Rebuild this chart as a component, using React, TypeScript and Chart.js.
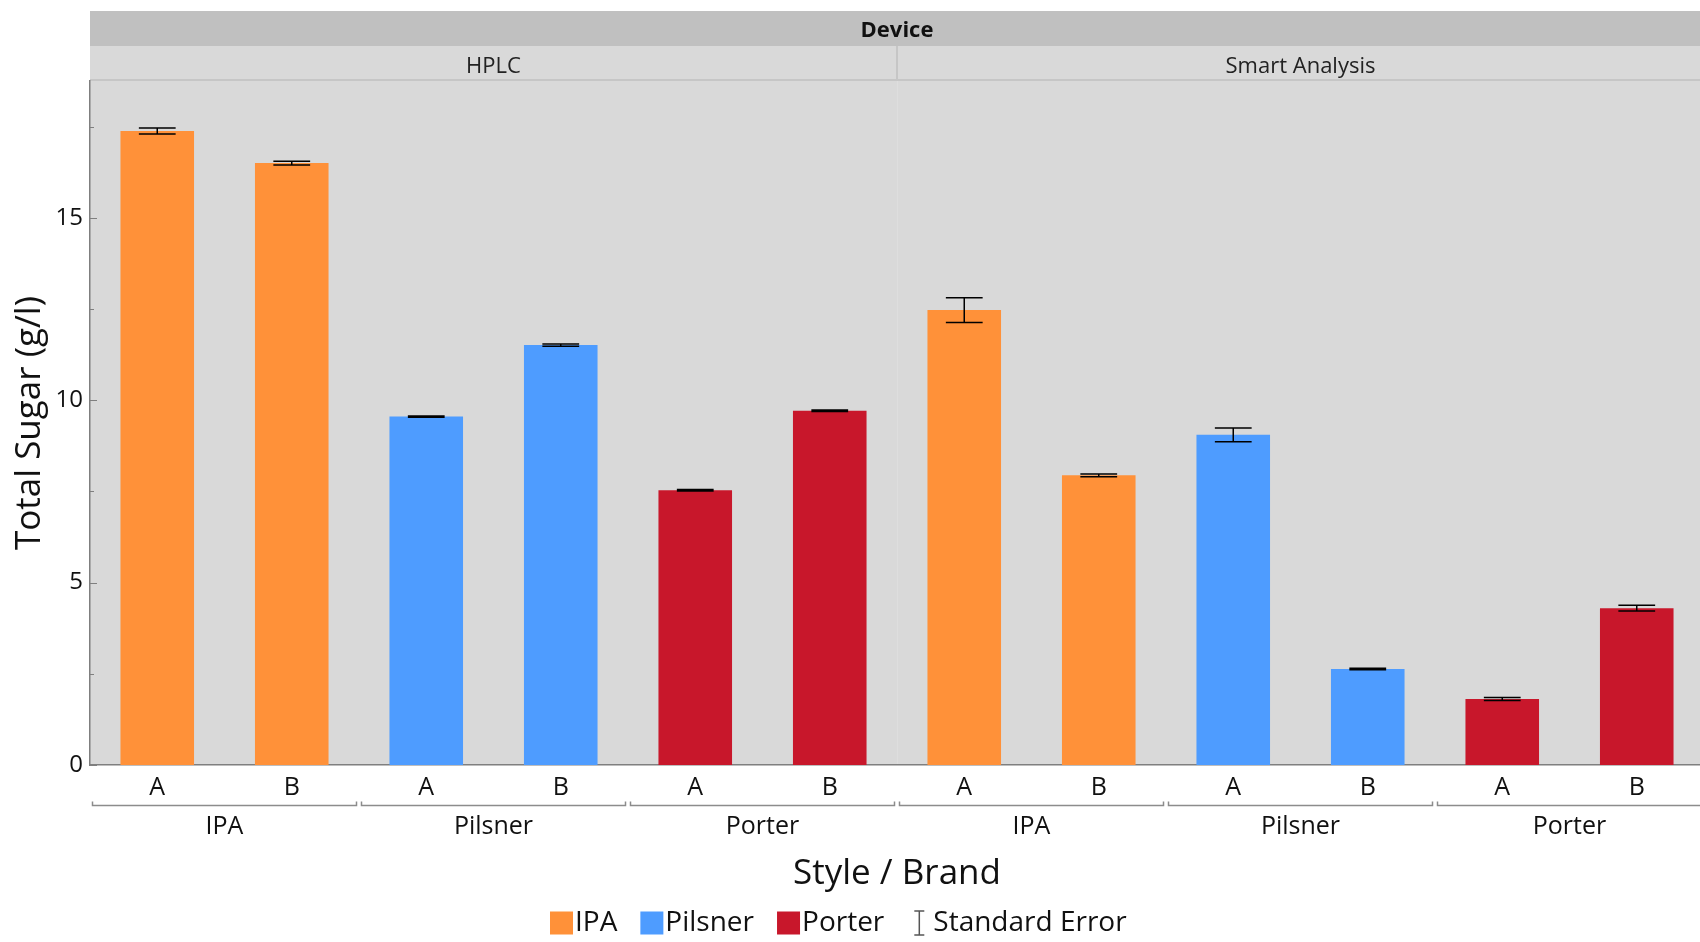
import React, { useEffect, useRef } from 'react';
import { Chart, registerables } from 'chart.js';

Chart.register(...registerables);

// ---- Data ----
const brands = ['A', 'B', 'A', 'B', 'A', 'B', 'A', 'B', 'A', 'B', 'A', 'B'];
const barStyles = ['IPA', 'IPA', 'Pilsner', 'Pilsner', 'Porter', 'Porter', 'IPA', 'IPA', 'Pilsner', 'Pilsner', 'Porter', 'Porter'];
const devices = ['HPLC', 'Smart Analysis'];
const styleGroups = ['IPA', 'Pilsner', 'Porter', 'IPA', 'Pilsner', 'Porter'];
const totalSugar = [17.38, 16.5, 9.55, 11.51, 7.53, 9.71, 12.47, 7.94, 9.05, 2.63, 1.81, 4.3];
const stdError = [0.08, 0.05, 0.02, 0.03, 0.02, 0.02, 0.34, 0.04, 0.19, 0.02, 0.04, 0.08];
const yTickValues = [0, 2.5, 5, 7.5, 10, 12.5, 15, 17.5];
const legendStyles = ['IPA', 'Pilsner', 'Porter'];
const styleColors: Record<string, string> = {
  IPA: '#FF9139',
  Pilsner: '#4E9CFF',
  Porter: '#C8172B',
};

const FONT = "'Open Sans', 'Noto Sans', sans-serif";
const TEXT = '#111111';

const facetPlugin = {
  id: 'facetDecor',
  beforeDraw(chart: any) {
    const { ctx, chartArea: ca, scales } = chart;
    const x = scales.x;
    const split = (x.getPixelForValue(5) + x.getPixelForValue(6)) / 2;
    ctx.save();
    // plot background
    ctx.fillStyle = '#D9D9D9';
    ctx.fillRect(ca.left, ca.top, ca.right - ca.left, ca.bottom - ca.top);
    // faint panel divider inside plot
    ctx.strokeStyle = '#DEDEDE';
    ctx.lineWidth = 1;
    ctx.beginPath();
    ctx.moveTo(split + 0.5, ca.top);
    ctx.lineTo(split + 0.5, ca.bottom);
    ctx.stroke();

    // strips
    const stripTop = 11;
    const stripMid = 46;
    ctx.fillStyle = '#C0C0C0';
    ctx.fillRect(ca.left, stripTop, ca.right - ca.left, stripMid - stripTop);
    ctx.fillStyle = '#D9D9D9';
    ctx.fillRect(ca.left, stripMid, ca.right - ca.left, ca.top - stripMid);
    ctx.strokeStyle = '#C6C6C6';
    ctx.lineWidth = 2;
    ctx.beginPath();
    ctx.moveTo(ca.left, ca.top - 1);
    ctx.lineTo(ca.right, ca.top - 1);
    ctx.moveTo(split, stripMid);
    ctx.lineTo(split, ca.top);
    ctx.stroke();

    ctx.fillStyle = TEXT;
    ctx.textAlign = 'center';
    ctx.textBaseline = 'middle';
    ctx.font = `bold 22px ${FONT}`;
    ctx.fillText('Device', (ca.left + ca.right) / 2, (stripTop + stripMid) / 2 + 2.5);
    ctx.font = `22px ${FONT}`;
    ctx.fillStyle = '#222';
    ctx.fillText(devices[0], (ca.left + split) / 2, (stripMid + ca.top) / 2 + 3);
    ctx.fillText(devices[1], (split + ca.right) / 2, (stripMid + ca.top) / 2 + 3);
    ctx.restore();
  },
  afterDatasetsDraw(chart: any) {
    const { ctx, chartArea: ca, scales } = chart;
    const x = scales.x;
    const y = scales.y;
    ctx.save();
    // inside tick marks on y axis
    ctx.strokeStyle = '#7F7F7F';
    ctx.lineWidth = 1;
    yTickValues.forEach((v) => {
      const py = Math.round(y.getPixelForValue(v)) + 0.5;
      const len = v % 5 === 0 ? 7 : 4;
      ctx.beginPath();
      ctx.moveTo(ca.left, py);
      ctx.lineTo(ca.left + len, py);
      ctx.stroke();
    });

    // error bars
    const meta = chart.getDatasetMeta(0);
    ctx.strokeStyle = '#000';
    ctx.lineWidth = 1.5;
    meta.data.forEach((bar: any, i: number) => {
      const cx = bar.x;
      const hi = y.getPixelForValue(totalSugar[i] + stdError[i]);
      const lo = y.getPixelForValue(totalSugar[i] - stdError[i]);
      const half = bar.width * 0.25;
      ctx.beginPath();
      ctx.moveTo(cx - half, hi);
      ctx.lineTo(cx + half, hi);
      ctx.moveTo(cx, hi);
      ctx.lineTo(cx, lo);
      ctx.moveTo(cx - half, lo);
      ctx.lineTo(cx + half, lo);
      ctx.stroke();
    });

    // group brackets and labels
    const step = x.getPixelForValue(1) - x.getPixelForValue(0);
    const by = 805.5;
    ctx.strokeStyle = '#8C8C8C';
    ctx.lineWidth = 1.5;
    ctx.fillStyle = TEXT;
    ctx.font = `25px ${FONT}`;
    ctx.textAlign = 'center';
    ctx.textBaseline = 'middle';
    styleGroups.forEach((g, gi) => {
      const l = x.getPixelForValue(gi * 2) - step / 2 + 2.5;
      const r = x.getPixelForValue(gi * 2 + 1) + step / 2 - 2.5;
      ctx.beginPath();
      ctx.moveTo(l, by - 4);
      ctx.lineTo(l, by);
      ctx.lineTo(r, by);
      ctx.lineTo(r, by - 4);
      ctx.stroke();
      ctx.fillText(g, (l + r) / 2, 827);
    });

    // legend
    const ly = 923;
    const sq = 23;
    let lx = 550;
    ctx.font = `28px ${FONT}`;
    ctx.textAlign = 'left';
    legendStyles.forEach((s) => {
      ctx.fillStyle = styleColors[s];
      ctx.fillRect(lx, ly - sq / 2, sq, sq);
      lx += sq + 2;
      ctx.fillStyle = TEXT;
      ctx.fillText(s, lx, ly);
      lx += ctx.measureText(s).width + 23;
    });
    // standard error icon
    const ix = lx + 12;
    ctx.strokeStyle = '#555';
    ctx.lineWidth = 1.5;
    ctx.beginPath();
    ctx.moveTo(ix - 5, ly - 12);
    ctx.lineTo(ix + 5, ly - 12);
    ctx.moveTo(ix, ly - 12);
    ctx.lineTo(ix, ly + 12);
    ctx.moveTo(ix - 5, ly + 12);
    ctx.lineTo(ix + 5, ly + 12);
    ctx.stroke();
    ctx.fillStyle = TEXT;
    ctx.fillText('Standard Error', ix + 14, ly);
    ctx.restore();
  },
};

export default function App() {
  const canvasRef = useRef<HTMLCanvasElement | null>(null);

  useEffect(() => {
    const canvas = canvasRef.current;
    if (!canvas) return;
    const chart = new Chart(canvas, {
      type: 'bar',
      data: {
        labels: brands,
        datasets: [
          {
            label: 'Total Sugar (g/l)',
            data: totalSugar,
            backgroundColor: barStyles.map((s) => styleColors[s]),
            borderWidth: 0,
            barPercentage: 0.547,
            categoryPercentage: 1,
          },
        ],
      },
      options: {
        responsive: false,
        animation: false,
        devicePixelRatio: 1,
        layout: { padding: { top: 81, left: 0, right: 0, bottom: 47 } },
        plugins: {
          legend: { display: false },
          tooltip: { enabled: false },
          title: { display: false },
        },
        scales: {
          x: {
            type: 'category',
            offset: true,
            grid: { display: false },
            border: { display: true, color: '#7F7F7F', width: 1.5 },
            ticks: {
              font: { family: FONT, size: 25 },
              color: TEXT,
              padding: 0,
              maxRotation: 0,
              autoSkip: false,
            },
            title: {
              display: true,
              text: 'Style / Brand',
              font: { family: FONT, size: 35 },
              color: TEXT,
              padding: { top: 0, bottom: 0 },
            },
            afterFit: (s: any) => {
              s.height = 130;
            },
          },
          y: {
            min: 0,
            max: 18.75,
            grid: { display: false },
            border: { display: true, color: '#7F7F7F', width: 1.5 },
            afterBuildTicks: (s: any) => {
              s.ticks = yTickValues.map((v) => ({ value: v }));
            },
            ticks: {
              font: { family: FONT, size: 24 },
              color: TEXT,
              padding: -1,
              callback: (v: any) => (Number(v) % 5 === 0 ? String(v) : ''),
            },
            title: {
              display: true,
              text: 'Total Sugar (g/l)',
              font: { family: FONT, size: 35 },
              color: TEXT,
              padding: { top: 9, bottom: 0 },
            },
            afterFit: (s: any) => {
              s.width = 90;
            },
          },
        },
      },
      plugins: [facetPlugin],
    } as any);
    return () => chart.destroy();
  }, []);

  return (
    <div style={{ position: 'absolute', left: 0, top: 0, width: 1700, height: 942, background: '#fff', overflow: 'hidden' }}>
      <canvas ref={canvasRef} width={1704} height={942} style={{ display: 'block' }} />
    </div>
  );
}
